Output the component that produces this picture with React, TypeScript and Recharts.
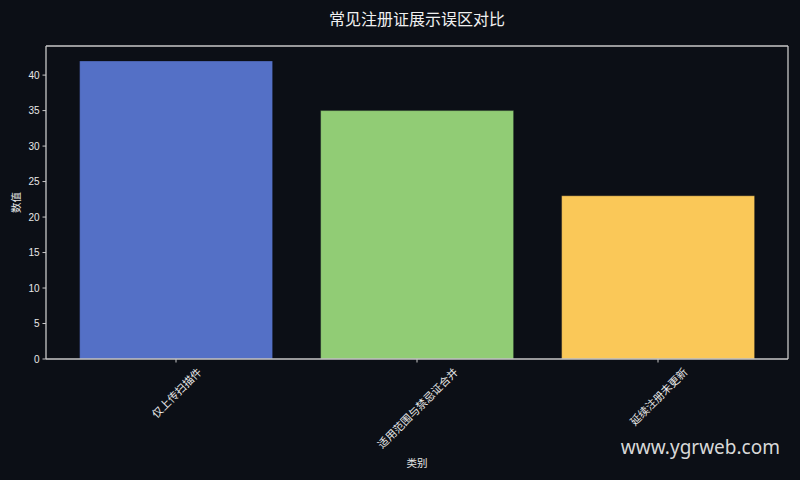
import React from "react";
import { BarChart, Bar, XAxis, YAxis, Cell, Label, CartesianGrid } from "recharts";

const categories = ["仅上传扫描件", "适用范围与禁忌证合并", "延续注册未更新"];
const values = [42, 35, 23];
const barColors = ["#5470c6", "#91cc75", "#fac858"];
const yTicks = [0, 5, 10, 15, 20, 25, 30, 35, 40];

const BG = "#0c0f16";
const FRAME = "#c8c8c8";
const TEXT = "#e8e8e8";
const CJK = '"Noto Sans CJK SC", "Noto Sans", sans-serif';
const NUM = '"Liberation Sans", Arial, sans-serif';

const data = categories.map((name, i) => ({ name, value: values[i] }));

function RotatedTick({ x, y, payload }: { x?: number; y?: number; payload?: { value: string } }) {
  const text = payload?.value ?? "";
  const fs = 10.8;
  // matplotlib-style: rotated 45°, bounding box centred under the tick
  const half = (text.length * fs + fs) / (2 * Math.SQRT2);
  const cx = x ?? 0;
  const cy = (y ?? 0) + half;
  return (
    <text
      x={cx}
      y={cy}
      transform={`rotate(-45 ${cx} ${cy})`}
      textAnchor="middle"
      dominantBaseline="central"
      fill={TEXT}
      fontSize={fs}
      fontFamily={CJK}
    >
      {text}
    </text>
  );
}

export default function App() {
  return (
    <div style={{ position: "absolute", left: 0, top: 0, width: 800, height: 480, background: BG, overflow: "hidden" }}>
      <div
        style={{
          position: "absolute",
          left: 46,
          width: 742,
          top: 6,
          textAlign: "center",
          color: "#f0f0f0",
          fontSize: 16,
          fontFamily: CJK,
          lineHeight: "24px",
        }}
      >
        常见注册证展示误区对比
      </div>
      <BarChart
        width={800}
        height={480}
        data={data}
        margin={{ top: 46, right: 12, left: 0, bottom: 0 }}
        barCategoryGap="10%"
      >
        {/* top and right spines */}
        <CartesianGrid
          stroke={FRAME}
          strokeWidth={1.3}
          horizontalCoordinatesGenerator={({ offset }: any) => [offset.top]}
          verticalCoordinatesGenerator={({ offset }: any) => [offset.left + offset.width]}
        />
        <XAxis
          dataKey="name"
          height={121}
          padding={{ left: 9.5, right: 9.5 }}
          axisLine={{ stroke: FRAME, strokeWidth: 1.3 }}
          tickLine={{ stroke: FRAME }}
          tickSize={3.5}
          tickMargin={3}
          interval={0}
          tick={<RotatedTick />}
        >
          <Label
            content={({ viewBox }: any) => (
              <text
                x={viewBox.x + viewBox.width / 2}
                y={viewBox.y + 103}
                textAnchor="middle"
                dominantBaseline="central"
                fill={TEXT}
                fontSize={10.5}
                fontFamily={CJK}
              >
                类别
              </text>
            )}
          />
        </XAxis>
        <YAxis
          width={46}
          domain={[0, 44.1]}
          ticks={yTicks}
          allowDataOverflow
          axisLine={{ stroke: FRAME, strokeWidth: 1.3 }}
          tickLine={{ stroke: FRAME }}
          tickSize={3.5}
          tickMargin={3}
          tick={{ fill: TEXT, fontSize: 10, fontFamily: NUM }}
        >
          <Label
            content={({ viewBox }: any) => {
              const lx = viewBox.x + 15;
              const ly = viewBox.y + viewBox.height / 2;
              return (
                <text
                  x={lx}
                  y={ly}
                  transform={`rotate(-90 ${lx} ${ly})`}
                  textAnchor="middle"
                  dominantBaseline="central"
                  fill={TEXT}
                  fontSize={10.5}
                  fontFamily={CJK}
                >
                  数值
                </text>
              );
            }}
          />
        </YAxis>
        <Bar dataKey="value" isAnimationActive={false} stroke={BG} strokeOpacity={0.35} strokeWidth={1}>
          {data.map((d, i) => (
            <Cell key={d.name} fill={barColors[i]} />
          ))}
        </Bar>
      </BarChart>
      <div
        style={{
          position: "absolute",
          right: 20,
          top: 433,
          color: "#d8d8d8",
          fontSize: 19,
          fontFamily: '"Noto Sans", "Open Sans", sans-serif',
          lineHeight: "28px",
        }}
      >
        www.ygrweb.com
      </div>
    </div>
  );
}
